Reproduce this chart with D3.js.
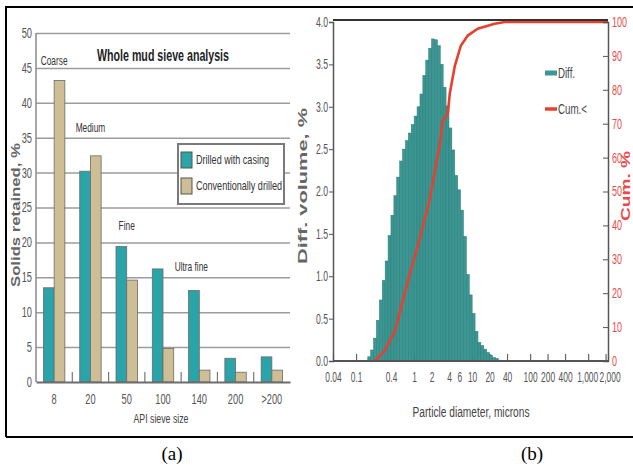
<!DOCTYPE html>
<html>
<head>
<meta charset="utf-8">
<script src="https://cdn.jsdelivr.net/npm/d3@7"></script>
<style>
  body { margin: 0; background: #fff; }
  svg { display: block; }
  text { font-family: "Liberation Sans", Arial, sans-serif; }
</style>
</head>
<body>
<script>
// ---- (a) whole mud sieve analysis ----
var sieveSizes = ["8", "20", "50", "100", "140", "200", ">200"];
var casing = [13.5, 30.2, 19.4, 16.2, 13.1, 3.4, 3.6];
var conventional = [43.2, 32.4, 14.6, 4.8, 1.7, 1.4, 1.7];
var seriesNames = ["Drilled with casing", "Conventionally drilled"];
var sieveTicks = [0, 5, 10, 15, 20, 25, 30, 35, 40, 45, 50];
var fractionNames = ["Coarse", "Medium", "Fine", "Ultra fine"];
var fractionAt = ["8", "20", "50", "140"];
var fractionLevel = [46.1, 36.5, 22.5, 16.6];

// ---- (b) particle size distribution ----
// lower edge of each size class (microns), last entry closes the last class
var sizeClasses = [0.159, 0.178, 0.200, 0.224, 0.252, 0.283, 0.317, 0.356, 0.399, 0.448,
    0.502, 0.564, 0.632, 0.710, 0.796, 0.893, 1.002, 1.125, 1.262, 1.416,
    1.589, 1.783, 2.000, 2.244, 2.518, 2.825, 3.170, 3.557, 3.991, 4.477,
    5.024, 5.637, 6.325, 7.096, 7.962, 8.934, 10.02, 11.25, 12.62, 14.16,
    15.89, 17.83, 20.00, 22.44, 25.18, 28.25, 31.70];
var diffVolume = [0.05, 0.13, 0.27, 0.48, 0.72, 0.95, 1.18, 1.48, 1.72, 1.95,
    2.17, 2.36, 2.50, 2.60, 2.69, 2.79, 2.89, 3.00, 3.15, 3.37,
    3.55, 3.69, 3.80, 3.79, 3.72, 3.50, 3.23, 3.01, 2.75, 2.49,
    2.19, 2.02, 1.78, 1.47, 1.02, 0.78, 0.56, 0.35, 0.22, 0.18,
    0.14, 0.10, 0.07, 0.04, 0.03, 0.01];
var cumSizes = [0.21, 0.31, 0.47, 0.62, 0.69, 0.92, 1.16, 1.53, 1.87, 2.28, 2.78, 3.13, 3.81, 4.13, 5.03, 6.38, 8.43, 12.5, 24.5, 36.5, 2200];
var cumPercent = [0, 3, 9, 17, 20, 28, 34, 42, 48, 56, 64, 71, 73, 79, 87, 93, 96, 98, 99.5, 100, 100];
var diaTicks = [0.04, 0.1, 0.4, 1, 2, 4, 6, 10, 20, 40, 100, 200, 400, 1000, 2000];
var diffTicks = [0, 0.5, 1, 1.5, 2, 2.5, 3, 3.5, 4];
var cumTicks = [0, 10, 20, 30, 40, 50, 60, 70, 80, 90, 100];
var legendB = ["Diff.", "Cum.<"];

var W = 633, H = 468;
var teal = "#2aa4a8", tan = "#cdbe96", histTeal = "#3a9793", red = "#e8402e";

var svg = d3.select("body").append("svg")
    .attr("width", W)
    .attr("height", H);

// squeeze text horizontally (the figure is stretched vertically)
function condense (sel, k) {
    sel.each(function () {
        var x = +this.getAttribute("x") || 0;
        this.setAttribute("x", x / k);
        this.setAttribute("transform", "scale(" + k + ",1)");
    });
}
// same idea, done with textLength
function condenseLen (sel, k) {
    sel.each(function () {
        var L = this.getComputedTextLength();
        this.setAttribute("textLength", L * k);
        this.setAttribute("lengthAdjust", "spacingAndGlyphs");
    });
}

// outer frame
svg.append("path")
    .attr("d", "M6,437V7H633M6,437H633")
    .attr("fill", "none")
    .attr("stroke", "#000")
    .attr("stroke-width", 2);

/* ================= panel (a) ================= */
var wa = 254, ha = 349;
var ga = svg.append("g").attr("transform", "translate(36,33)");

var xa = d3.scaleBand().domain(sieveSizes).range([0, wa]).paddingInner(0.41).paddingOuter(0.205);
var xs = d3.scaleBand().domain(["casing", "conventional"]).range([0, xa.bandwidth()]);
var ya = d3.scaleLinear().domain([0, 50]).range([ha, 0]);
var colorA = d3.scaleOrdinal().domain(["casing", "conventional"]).range([teal, tan]);

// gridlines
ga.append("g")
    .attr("class", "grid")
    .call(d3.axisLeft(ya).tickValues(sieveTicks.slice(1)).tickSize(-wa).tickFormat(""))
    .call(g => g.select(".domain").remove())
    .selectAll("line")
    .attr("stroke", "#9c9c9c")
    .attr("stroke-width", 1.5);

// y axis labels
ga.append("g")
    .call(d3.axisLeft(ya).tickValues(sieveTicks).tickSize(0).tickPadding(4))
    .call(g => g.select(".domain").remove())
    .selectAll("text")
    .attr("fill", "#555")
    .style("font-size", "14px")
    .call(condenseLen, 0.66);

ga.append("line")
    .attr("x1", 0).attr("x2", 0)
    .attr("y1", 0).attr("y2", ha)
    .attr("stroke", "#8a8a8a")
    .attr("stroke-width", 1.5);

// bars
var rows = sieveSizes.map((s, i) => ({ size: s, casing: casing[i], conventional: conventional[i] }));
var grp = ga.selectAll(".grp")
    .data(rows)
    .enter().append("g")
    .attr("class", "grp")
    .attr("transform", d => "translate(" + xa(d.size) + ",0)");
grp.selectAll("rect")
    .data(d => ["casing", "conventional"].map(k => ({ key: k, v: d[k] })))
    .enter().append("rect")
    .attr("x", d => xs(d.key))
    .attr("width", xs.bandwidth())
    .attr("y", d => ya(d.v))
    .attr("height", d => ha - ya(d.v))
    .attr("fill", d => colorA(d.key))
    .attr("stroke", "#6a6a6a")
    .attr("stroke-width", 0.8);

// separators between sieve groups
ga.selectAll(".sep")
    .data(sieveSizes.slice(1))
    .enter().append("line")
    .attr("class", "sep")
    .attr("x1", d => xa(d) - xa.step() * xa.paddingInner() / 2)
    .attr("x2", d => xa(d) - xa.step() * xa.paddingInner() / 2)
    .attr("y1", ha - 10).attr("y2", ha)
    .attr("stroke", "#777")
    .attr("stroke-width", 1.2);

// x axis
ga.append("g")
    .attr("transform", "translate(0," + ha + ")")
    .call(d3.axisBottom(xa).tickSize(0).tickPadding(12))
    .call(g => g.select(".domain").attr("stroke", "#6d6d6d").attr("stroke-width", 2))
    .selectAll("text")
    .attr("fill", "#555")
    .style("font-size", "14px")
    .call(condenseLen, 0.66);

// fraction annotations
ga.selectAll(".frac")
    .data(fractionNames)
    .enter().append("text")
    .attr("class", "frac")
    .attr("x", (d, i) => xa(fractionAt[i]) + xa.bandwidth() / 2 - (i === 3 ? 8 : 0))
    .attr("y", (d, i) => ya(fractionLevel[i]))
    .attr("dy", "0.35em")
    .attr("text-anchor", "middle")
    .attr("fill", "#333")
    .style("font-size", "13px")
    .text(d => d)
    .call(condenseLen, 0.64);

// title
svg.append("text")
    .attr("x", 97).attr("y", 61)
    .attr("textLength", 132)
    .attr("lengthAdjust", "spacingAndGlyphs")
    .attr("fill", "#222")
    .style("font-size", "17px")
    .style("font-weight", "bold")
    .text("Whole mud sieve analysis");

// legend (a)
var la = svg.append("g").attr("transform", "translate(178,144)");
la.append("rect")
    .attr("width", 106).attr("height", 60)
    .attr("fill", "#fff")
    .attr("stroke", "#7a7a7a")
    .attr("stroke-width", 2);
var laItem = la.selectAll(".item")
    .data(seriesNames)
    .enter().append("g")
    .attr("class", "item")
    .attr("transform", (d, i) => "translate(3," + (8 + i * 26) + ")");
laItem.append("rect")
    .attr("width", 11).attr("height", 16)
    .attr("fill", (d, i) => colorA.range()[i])
    .attr("stroke", "#555")
    .attr("stroke-width", 1);
laItem.append("text")
    .attr("x", 15).attr("y", 12)
    .attr("textLength", (d, i) => i === 0 ? 73 : 86)
    .attr("lengthAdjust", "spacingAndGlyphs")
    .attr("fill", "#333")
    .style("font-size", "13px")
    .text(d => d);

// axis titles (a)
svg.append("text")
    .attr("transform", "translate(15,215) rotate(-90)")
    .attr("text-anchor", "middle")
    .attr("dy", "0.35em")
    .attr("textLength", 144)
    .attr("lengthAdjust", "spacingAndGlyphs")
    .attr("fill", "#666")
    .style("font-size", "13px")
    .style("font-weight", "bold")
    .text("Solids retained, %");
svg.append("text")
    .attr("x", 161).attr("y", 418)
    .attr("dy", "0.35em")
    .attr("text-anchor", "middle")
    .attr("textLength", 55)
    .attr("lengthAdjust", "spacingAndGlyphs")
    .attr("fill", "#444")
    .style("font-size", "13px")
    .text("API sieve size");

/* ================= panel (b) ================= */
var wb = 275, hb = 339;
var gb = svg.append("g").attr("transform", "translate(333,22)");

var xb = d3.scaleLog().domain([0.04, 2200]).range([0, wb]);
var yd = d3.scaleLinear().domain([0, 4]).range([hb, 0]);
var yc = d3.scaleLinear().domain([0, 100]).range([hb, 0]);

// bottom axis ticks and labels
gb.append("g")
    .attr("transform", "translate(0," + hb + ")")
    .call(d3.axisBottom(xb).tickValues(diaTicks).tickFormat(d3.format(",")).tickSize(-7).tickPadding(11))
    .call(g => g.select(".domain").remove())
    .call(g => g.selectAll("line").attr("stroke", "#666").attr("stroke-width", 1.2))
    .call(g => g.selectAll("text").filter(d => d === 2000).attr("x", 4))
    .call(g => g.selectAll("text").filter(d => d === 1000).attr("x", -1))
    .selectAll("text")
    .attr("fill", "#555")
    .style("font-size", "14px")
    .call(condense, 0.6);

// histogram
var bins = diffVolume.map((v, i) => ({ x0: sizeClasses[i], x1: sizeClasses[i + 1], v: v }));
gb.selectAll(".bin")
    .data(bins)
    .enter().append("rect")
    .attr("class", "bin")
    .attr("x", d => xb(d.x0))
    .attr("width", d => xb(d.x1) - xb(d.x0))
    .attr("y", d => yd(d.v))
    .attr("height", d => hb - yd(d.v))
    .attr("fill", histTeal)
    .attr("stroke", "#2c7875")
    .attr("stroke-width", 0.5);

// cumulative curve
var cum = cumSizes.map((s, i) => ({ s: s, p: cumPercent[i] }));
var line = d3.line()
    .x(d => xb(d.s))
    .y(d => yc(d.p));
gb.append("path")
    .datum(cum)
    .attr("d", line)
    .attr("fill", "none")
    .attr("stroke", red)
    .attr("stroke-width", 2.6);

// frame of the plot
gb.append("line")
    .attr("x1", 0).attr("x2", wb).attr("y1", hb).attr("y2", hb)
    .attr("stroke", "#555").attr("stroke-width", 2);
gb.append("line")
    .attr("x1", 0).attr("x2", wb).attr("y1", -2).attr("y2", -2)
    .attr("stroke", "#333").attr("stroke-width", 2.2);

// left axis
gb.append("g")
    .call(d3.axisLeft(yd).tickValues(diffTicks).tickFormat(d3.format(".1f")).tickSize(4).tickPadding(1))
    .call(g => g.select(".domain").attr("stroke", "#555").attr("stroke-width", 1.5))
    .call(g => g.selectAll("line").attr("stroke", "#555"))
    .selectAll("text")
    .attr("fill", "#555")
    .style("font-size", "14px")
    .call(condenseLen, 0.62);

// right axis
gb.append("g")
    .attr("transform", "translate(" + wb + ",0)")
    .call(d3.axisRight(yc).tickValues(cumTicks).tickSize(-5).tickPadding(4))
    .call(g => g.select(".domain").attr("stroke", "#555").attr("stroke-width", 1.5))
    .call(g => g.selectAll("line").attr("stroke", "#555"))
    .selectAll("text")
    .attr("fill", "#e84a4a")
    .style("font-size", "14px")
    .call(condense, 0.64);

// legend (b)
var lb = svg.append("g").attr("transform", "translate(545,73)");
var lbItem = lb.selectAll(".item")
    .data(legendB)
    .enter().append("g")
    .attr("class", "item")
    .attr("transform", (d, i) => "translate(0," + i * 36 + ")");
lbItem.append("line")
    .attr("x1", 0).attr("x2", 12)
    .attr("stroke", (d, i) => i === 0 ? histTeal : red)
    .attr("stroke-width", (d, i) => i === 0 ? 5 : 3.5);
lbItem.append("text")
    .attr("x", 13)
    .attr("dy", "0.35em")
    .attr("textLength", (d, i) => i === 0 ? 17 : 29)
    .attr("lengthAdjust", "spacingAndGlyphs")
    .attr("fill", "#444")
    .style("font-size", "15px")
    .text(d => d);

// axis titles (b)
svg.append("text")
    .attr("transform", "translate(302,186) rotate(-90)")
    .attr("text-anchor", "middle")
    .attr("dy", "0.35em")
    .attr("textLength", 156)
    .attr("lengthAdjust", "spacingAndGlyphs")
    .attr("fill", "#666")
    .style("font-size", "13px")
    .style("font-weight", "bold")
    .text("Diff. volume, %");
svg.append("text")
    .attr("transform", "translate(626,186) rotate(-90)")
    .attr("text-anchor", "middle")
    .attr("dy", "0.35em")
    .attr("textLength", 70)
    .attr("lengthAdjust", "spacingAndGlyphs")
    .attr("fill", "#e84a4a")
    .style("font-size", "12px")
    .style("font-weight", "bold")
    .text("Cum. %");
svg.append("text")
    .attr("x", 471).attr("y", 412)
    .attr("dy", "0.35em")
    .attr("text-anchor", "middle")
    .attr("textLength", 117)
    .attr("lengthAdjust", "spacingAndGlyphs")
    .attr("fill", "#444")
    .style("font-size", "14px")
    .text("Particle diameter, microns");

// captions
svg.selectAll(".caption")
    .data(["(a)", "(b)"])
    .enter().append("text")
    .attr("class", "caption")
    .attr("x", (d, i) => i === 0 ? 172 : 532)
    .attr("y", 460)
    .attr("text-anchor", "middle")
    .attr("fill", "#000")
    .style("font-family", "'Liberation Serif', 'Times New Roman', serif")
    .style("font-size", "19px")
    .text(d => d);
</script>
</body>
</html>
